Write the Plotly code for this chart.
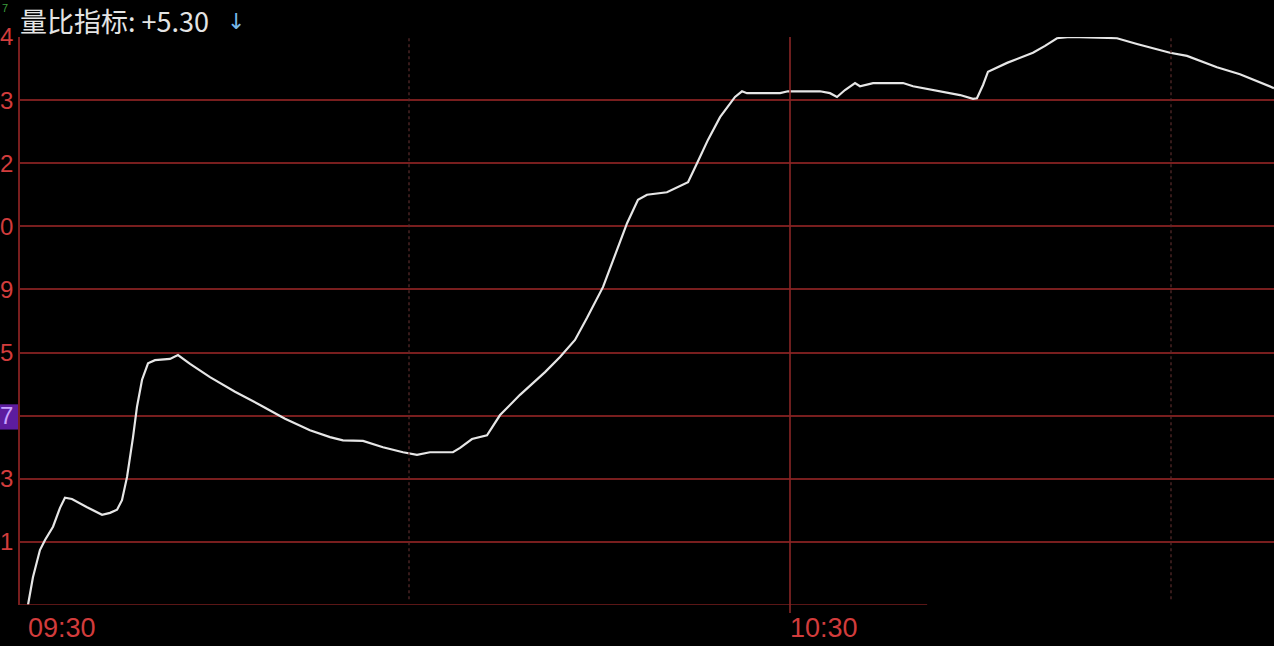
import plotly.graph_objects as go

# minutes after 09:30
minutes = [0.0, 0.39, 0.94, 1.34, 1.97, 2.52, 2.91, 3.46, 4.65, 5.83, 6.46, 7.01, 7.40, 7.80,
           8.27, 8.58, 8.98, 9.45, 10.0, 11.18, 11.81, 12.76, 14.33, 16.30, 18.27, 20.24,
           22.20, 23.78, 24.80, 26.38, 27.95, 29.53, 30.63, 31.65, 33.46, 34.02, 34.96,
           36.14, 37.17, 38.74, 40.71, 41.89, 43.07, 44.02, 45.28, 46.22, 47.17, 48.03,
           48.74, 50.31, 51.97, 52.68, 53.54, 54.49, 55.67, 56.22, 56.61, 59.21, 59.84,
           62.36, 63.15, 63.70, 64.33, 65.12, 65.51, 66.54, 68.90, 69.69, 71.81, 73.39,
           74.41, 74.72, 75.20, 75.59, 77.09, 79.13, 80.08, 81.02, 82.05, 85.75, 87.32,
           89.92, 91.26, 93.62, 95.43, 97.17, 98.11]
values = [0.00, 0.44, 0.87, 1.03, 1.24, 1.54, 1.70, 1.68, 1.55, 1.43, 1.46, 1.51, 1.66, 2.03,
          2.66, 3.14, 3.57, 3.83, 3.88, 3.90, 3.96, 3.82, 3.61, 3.38, 3.17, 2.95,
          2.77, 2.66, 2.61, 2.60, 2.50, 2.42, 2.38, 2.42, 2.42, 2.49, 2.63,
          2.69, 3.01, 3.33, 3.69, 3.93, 4.20, 4.55, 5.04, 5.55, 6.05, 6.42,
          6.50, 6.54, 6.70, 7.00, 7.37, 7.73, 8.05, 8.14, 8.11, 8.11, 8.14,
          8.14, 8.11, 8.05, 8.16, 8.27, 8.22, 8.27, 8.27, 8.22, 8.14, 8.08,
          8.02, 8.03, 8.24, 8.45, 8.59, 8.75, 8.86, 8.98, 9.00, 8.98, 8.89,
          8.75, 8.70, 8.52, 8.41, 8.27, 8.19]

y_tick_vals = [1, 2, 3, 4, 5, 6, 7, 8, 9]
y_tick_text = ["1", "3", "<span style='color:#c9a2ff'>7</span>", "5", "9", "0", "2", "3", "4"]
x_tick_vals = [0, 60]
x_tick_text = ["09:30", "10:30"]
title_text = "量比指标: +5.30"

GRID = "#781e1e"
RED = "#d23c3c"

fig = go.Figure()
fig.add_trace(go.Scatter(x=minutes, y=values, mode="lines",
                         line=dict(color="#e6e6e6", width=2.2),
                         cliponaxis=False, hoverinfo="skip", showlegend=False))

x0, x1 = -0.63, 98.11
fig.update_layout(
    width=1274, height=646,
    margin=dict(l=20, r=0, t=37, b=41),
    paper_bgcolor="black", plot_bgcolor="black",
    font=dict(family="Liberation Sans, Arial, sans-serif", color=RED),
    xaxis=dict(range=[x0, x1], showgrid=False, zeroline=False, showline=False,
               tickvals=x_tick_vals, ticktext=x_tick_text, ticks="",
               ticklabelposition="outside right", ticklabelstandoff=4,
               tickfont=dict(size=27, color=RED, family="Liberation Sans"),
               fixedrange=True),
    yaxis=dict(range=[0, 9], showgrid=True, gridcolor=GRID, gridwidth=1.6,
               zeroline=False, showline=True, linecolor=GRID, linewidth=1.6,
               tickvals=y_tick_vals, ticktext=y_tick_text, ticks="",
               tickfont=dict(size=24, color=RED, family="Liberation Sans"),
               fixedrange=True),
)

# purple highlight behind the "7" label
fig.add_shape(type="rect", xref="paper", yref="y", x0=-0.0165, x1=-0.0012,
              y0=2.78, y1=3.18, fillcolor="#5d1c9e", line_width=0, layer="below")
# bottom axis line (stops short of the right edge)
fig.add_shape(type="line", xref="x", yref="y", x0=x0, x1=70.8, y0=0, y1=0,
              line=dict(color=GRID, width=1.6))
# 10:30 solid divider
fig.add_shape(type="line", xref="x", yref="paper", x0=60, x1=60, y0=-0.014, y1=1,
              line=dict(color="#8a2626", width=1.6))
# half-hour dotted dividers
for xv in [30, 90]:
    fig.add_shape(type="line", xref="x", yref="paper", x0=xv, x1=xv, y0=0.01, y1=1,
                  line=dict(color="#5a2c2c", width=1.2, dash="dot"))

# title
fig.add_annotation(xref="paper", yref="paper", x=0, y=1, xshift=-2, yshift=17,
                   xanchor="left", yanchor="middle", showarrow=False,
                   text=title_text,
                   font=dict(size=27, color="#e4e4e4",
                             family="Noto Sans CJK SC, Noto Sans, sans-serif"))
fig.add_annotation(xref="paper", yref="paper", x=0, y=1, xshift=205, yshift=16,
                   xanchor="left", yanchor="middle", showarrow=False,
                   text="↓", font=dict(size=22, color="#7ab8e8", family="DejaVu Sans"))
# small green label at the very top-left
fig.add_annotation(xref="paper", yref="paper", x=0, y=1, xshift=-20, yshift=37,
                   xanchor="left", yanchor="top", showarrow=False,
                   text="7", font=dict(size=11, color="#3c9c3c", family="Liberation Sans"))

fig.write_html("out.html", config={"displayModeBar": False})
with open("out.html", "r", encoding="utf-8") as f:
    html = f.read()
html = html.replace("<head>", "<head><style>html,body{margin:0;padding:0;background:#000;overflow:hidden}</style>", 1)
with open("out.html", "w", encoding="utf-8") as f:
    f.write(html)
